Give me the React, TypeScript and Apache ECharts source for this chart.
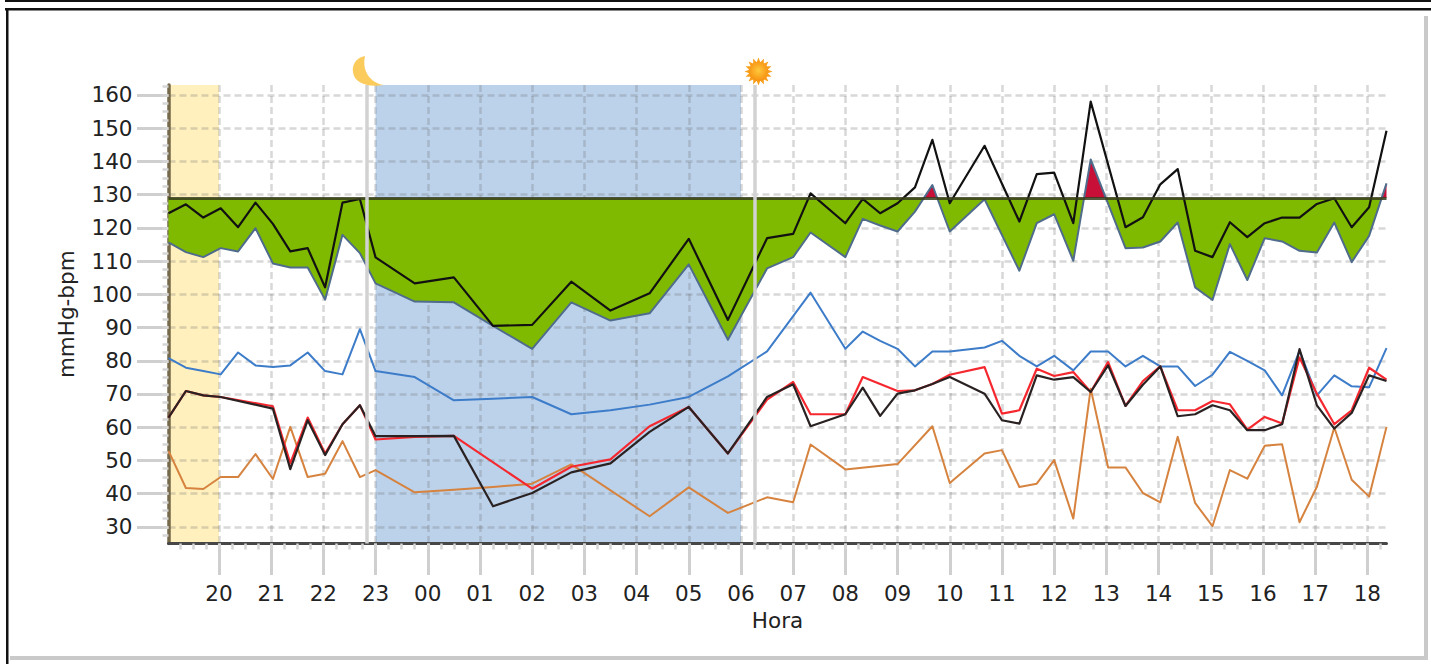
import React, { useEffect, useRef } from "react";
import * as echarts from "echarts";

const sampleTimes = [
  "19:02","19:22","19:42","20:02","20:22","20:42","21:02","21:22","21:42","22:02","22:22","22:42",
  "23:00","23:45","00:30","01:15","02:00","02:45","03:30","04:15","05:00","05:45","06:30",
  "07:00","07:20","08:00","08:20","08:40","09:00","09:20","09:40","10:00","10:40","11:00","11:20","11:40",
  "12:00","12:22","12:42","13:02","13:22","13:42","14:02","14:22","14:42","15:02","15:22","15:42",
  "16:02","16:22","16:42","17:02","17:22","17:42","18:02","18:22",
];

const upperValues = [
  124.4,127.1,123.1,125.9,120.2,127.6,121.2,112.9,113.9,102.1,127.6,128.7,
  111.1,103.3,105.1,90.5,90.8,103.8,95.1,100.3,116.7,92.3,116.9,
  118.2,130.4,121.4,128.7,124.4,127.4,132.2,146.5,127.4,144.7,null,121.9,136.2,
  136.6,121.4,158,null,120.2,123.2,133.1,137.7,113.1,111.2,121.7,117.2,
  121.4,123.1,123.1,127.2,128.9,120.2,126.2,149.2,
];
const systolicValues = [
  115.6,112.7,111.2,113.9,112.9,119.9,109.3,108.1,108.1,98.4,117.9,112.4,
  103.3,97.8,97.6,90.5,83.6,97.6,92.1,94.3,109,86.3,107.8,
  111.2,118.6,111.2,122.7,120.7,118.9,124.9,132.9,118.9,128.6,null,107.1,121.4,
  124.1,110.1,140.6,null,113.9,114.1,115.9,121.6,102.1,98.3,115.1,104.3,
  116.9,115.9,113.1,112.6,121.6,109.7,117.6,133.4,
];
const pulseValues = [
  80.8,77.9,76.9,75.9,82.5,78.6,78.1,78.6,82.5,76.9,75.9,89.5,
  76.9,75.1,68.1,68.6,69.1,63.9,65.1,66.8,69.1,75.3,82.8,
  null,100.5,83.6,88.8,86,83.6,78.3,82.8,82.8,84,86,81.5,78.3,
  81.5,77.1,82.8,82.8,78.3,81.5,78.3,78.3,72.4,75.8,82.7,80,
  77.1,69.6,83,69.6,75.6,72.3,72,83.8,
];
const meanRedValues = [
  62.9,70.9,69.6,69.1,null,null,66.3,49.1,62.9,52.1,60.9,66.6,
  56.3,57.1,57.4,null,41.5,48.1,50.3,60.3,66.1,52.1,68.3,
  73.6,63.9,63.9,75.1,73,70.9,71.1,73,75.8,78.1,64.1,65.1,77.6,
  75.4,76.6,70.6,79.6,66.4,73.9,78.3,65.1,65.1,67.9,66.9,59.3,
  63.1,61.1,81,70.1,60.9,65.1,77.9,74.3,
];
const meanBlackValues = [
  62.9,70.9,69.6,69.1,null,null,65.6,47.4,62.1,51.6,60.9,66.6,
  57.3,57.3,57.4,36.2,40.2,46.4,49.1,58.6,66.1,52.1,69.1,
  72.9,60.3,63.9,71.9,63.4,70.1,71.1,73,75.1,70.1,62.1,61.1,75.6,
  74.3,75.1,70.6,78.6,66.4,72.8,78.3,63.3,63.9,66.6,65.1,59.1,
  59.1,60.9,83.5,66.6,59.6,64.3,75.6,73.9,
];
const diastolicValues = [
  52.9,41.7,41.4,45,45,51.9,44.4,60.1,45,46,55.8,45,
  47.1,40.4,41.2,42,43,48.8,null,33.2,41.9,34.2,38.9,
  37.4,54.8,47.3,null,null,48.9,null,60.3,43.2,52.1,53.1,42,43,
  50.1,32.5,71.6,47.9,47.9,40.2,37.4,57.1,37.2,30.2,47.1,44.5,
  54.4,54.9,31.4,42.1,59.9,44.2,39.1,60.1,
];

const yTickValues = [30, 40, 50, 60, 70, 80, 90, 100, 110, 120, 130, 140, 150, 160];
const xTickValues = [20, 21, 22, 23, 24, 25, 26, 27, 28, 29, 30, 31, 32, 33, 34, 35, 36, 37, 38, 39, 40, 41, 42];

const LIMIT = 129;
const X_MIN = 19 + 2 / 60;
const X_MAX = 42 + 22 / 60;
const Y_MIN = 25;
const Y_MAX = 163;
const NIGHT_START_BAND = 23;
const NIGHT_END_BAND = 30;
const EVENING_END_BAND = 20;
const SLEEP_MARK = 22.83;
const WAKE_MARK = 30.26;
const HALO = 0.055;

const toHour = (t: string) => {
  const [h, m] = t.split(":").map(Number);
  return (h < 19 ? h + 24 : h) + m / 60;
};
const points = (values: (number | null)[]) =>
  sampleTimes
    .map((t, i) => [toHour(t), values[i]])
    .filter((p) => p[1] !== null);

const yMinorTicks: number[] = [];
for (let v = 27.5; v < Y_MAX; v += 2.5) yMinorTicks.push(v);
const xMinorTicks: number[] = [];
for (let h = 19.25; h < X_MAX; h += 0.25) xMinorTicks.push(h);

echarts.graphic.registerShape(
  "moon",
  echarts.graphic.extendPath(
    "M365 56 C355 58 352 66 353 72 C354 82 366 88 384 85 C374 84 361 74 365 56 Z",
    {}
  )
);

const sunRays: number[][] = [];
for (let i = 0; i < 32; i++) {
  const r = i % 2 === 0 ? 14 : 9.5;
  const a = (i * Math.PI) / 16;
  sunRays.push([r * Math.cos(a), r * Math.sin(a)]);
}

const FONT = "'DejaVu Sans'";
const FONT_SIZE = 21.5;
const lineSeries = (name: string, values: (number | null)[], color: string, width: number) => ({
  name,
  type: "line",
  data: points(values),
  showSymbol: false,
  symbol: "none",
  lineStyle: { color, width, join: "round" },
  itemStyle: { color },
  silent: true,
});

export default function App() {
  const ref = useRef<HTMLDivElement>(null);
  useEffect(() => {
    const chart = echarts.init(ref.current!, undefined, { renderer: "svg" });
    const rect = (x: number, y: number, width: number, height: number, fill: string) => ({
      type: "rect",
      shape: { x, y, width, height },
      style: { fill },
      silent: true,
    });
    chart.setOption({
      animation: false,
      backgroundColor: "#ffffff",
      textStyle: { fontFamily: FONT },
      grid: { left: 168.5, top: 85, width: 1218, height: 458.5, containLabel: false },
      visualMap: {
        show: false,
        type: "piecewise",
        seriesIndex: 1,
        dimension: 1,
        pieces: [
          { min: Y_MIN, max: LIMIT, color: "#80BA00" },
          { min: LIMIT, max: Y_MAX, color: "#C70F38" },
        ],
      },
      xAxis: [
        {
          type: "value",
          position: "bottom",
          min: X_MIN,
          max: X_MAX,
          z: 1,
          name: "Hora",
          nameLocation: "middle",
          nameGap: 64,
          nameTextStyle: { fontSize: FONT_SIZE, color: "#222", fontFamily: FONT },
          axisLine: { show: true, onZero: false, lineStyle: { color: "#474747", width: 3 } },
          axisTick: { show: true, length: 31.5, customValues: xTickValues, lineStyle: { color: "#cfcfcf", width: 3 } },
          axisLabel: {
            show: true,
            customValues: xTickValues,
            margin: 39,
            fontSize: FONT_SIZE,
            color: "#222",
            fontFamily: FONT,
            formatter: (v: number) => String(Math.round(v) % 24).padStart(2, "0"),
          },
          splitLine: { show: true, lineStyle: { color: "rgba(110,110,110,0.27)", width: 2.5, type: [7, 4] } },
        },
        {
          type: "value",
          position: "bottom",
          min: X_MIN,
          max: X_MAX,
          z: 1,
          axisLine: { show: false, onZero: false },
          axisTick: { show: true, length: 6, customValues: xMinorTicks, lineStyle: { color: "#d6d6d6", width: 2.5 } },
          axisLabel: { show: false },
          splitLine: { show: false },
        },
      ],
      yAxis: [
        {
          type: "value",
          position: "left",
          min: Y_MIN,
          max: Y_MAX,
          z: 1,
          name: "mmHg-bpm",
          nameLocation: "middle",
          nameGap: 91,
          nameTextStyle: { fontSize: FONT_SIZE, color: "#222", fontFamily: FONT },
          axisLine: { show: true, onZero: false, lineStyle: { color: "#75694A", width: 3.5 } },
          axisTick: { show: true, length: 31.5, customValues: yTickValues, lineStyle: { color: "#cfcfcf", width: 3 } },
          axisLabel: { show: true, customValues: yTickValues, margin: 36, fontSize: FONT_SIZE, color: "#222", fontFamily: FONT },
          splitLine: { show: true, lineStyle: { color: "rgba(110,110,110,0.27)", width: 2.5, type: [7, 4] } },
        },
        {
          type: "value",
          position: "left",
          min: Y_MIN,
          max: Y_MAX,
          z: 1,
          axisLine: { show: false, onZero: false },
          axisTick: { show: true, length: 6, customValues: yMinorTicks, lineStyle: { color: "#d6d6d6", width: 2.5 } },
          axisLabel: { show: false },
          splitLine: { show: false },
        },
      ],
      series: [
        {
          type: "line",
          name: "bands",
          data: [],
          silent: true,
          markArea: {
            silent: true,
            z: 0,
            data: [
              [{ coord: [X_MIN, Y_MIN], itemStyle: { color: "#FFF0BD" } }, { coord: [EVENING_END_BAND, Y_MAX] }],
              [{ coord: [NIGHT_START_BAND, Y_MIN], itemStyle: { color: "#BCD2EB" } }, { coord: [NIGHT_END_BAND, Y_MAX] }],
            ],
          },
        },
        {
          type: "line",
          name: "area",
          data: points(systolicValues),
          showSymbol: false,
          symbol: "none",
          silent: true,
          lineStyle: { width: 0 },
          areaStyle: { origin: LIMIT, opacity: 1 },
        },
        lineSeries("Diastólica", diastolicValues, "#D6833F", 2),
        lineSeries("Pulso", pulseValues, "#3D7CC9", 2),
        lineSeries("Media A", meanRedValues, "#F5282F", 2.2),
        lineSeries("Media B", meanBlackValues, "#2A2222", 2.2),
        {
          type: "line",
          name: "halo",
          data: [],
          silent: true,
          markArea: {
            silent: true,
            z: 3,
            itemStyle: { color: "#ffffff" },
            data: [
              [{ coord: [SLEEP_MARK - HALO, Y_MIN + 1] }, { coord: [SLEEP_MARK + HALO, 100] }],
              [{ coord: [WAKE_MARK - HALO, Y_MIN + 1] }, { coord: [WAKE_MARK + HALO, 100] }],
            ],
          },
        },
        {
          ...lineSeries("Sistólica", systolicValues, "#4F6C8C", 2),
          z: 4,
        },
        {
          ...lineSeries("Superior", upperValues, "#111111", 2.2),
          z: 4,
          markLine: {
            silent: true,
            symbol: "none",
            z: 5,
            label: { show: false },
            data: [
              { yAxis: LIMIT, lineStyle: { color: "rgba(55,60,30,0.85)", width: 3, type: "solid" } },
              { xAxis: SLEEP_MARK, lineStyle: { color: "#D2D2D2", width: 3.5, type: "solid" } },
              { xAxis: WAKE_MARK, lineStyle: { color: "#D2D2D2", width: 3.5, type: "solid" } },
            ],
          },
        },
      ],
      graphic: [
        rect(5, 0, 1426, 2, "#111"),
        rect(5, 8, 1426, 2.5, "#111"),
        rect(6, 8, 2.5, 656, "#111"),
        rect(1424, 16, 4, 644, "#c9c9c9"),
        rect(10, 656, 1418, 4, "#c9c9c9"),
        { type: "moon", x: 0, y: 0, style: { fill: "#FBCB5B" }, silent: true, z: 10 },
        {
          type: "polygon",
          x: 758.5,
          y: 71.5,
          shape: { points: sunRays },
          style: { fill: "#F8A01E" },
          silent: true,
          z: 10,
        },
        {
          type: "circle",
          x: 758.5,
          y: 71.5,
          shape: { r: 9.5 },
          style: {
            fill: new echarts.graphic.RadialGradient(0.5, 0.45, 0.6, [
              { offset: 0, color: "#FFC93C" },
              { offset: 1, color: "#F68C0C" },
            ]),
          },
          silent: true,
          z: 11,
        },
      ],
    });
    return () => chart.dispose();
  }, []);
  return <div ref={ref} style={{ position: "absolute", left: 0, top: 0, width: 1431, height: 664 }} />;
}
